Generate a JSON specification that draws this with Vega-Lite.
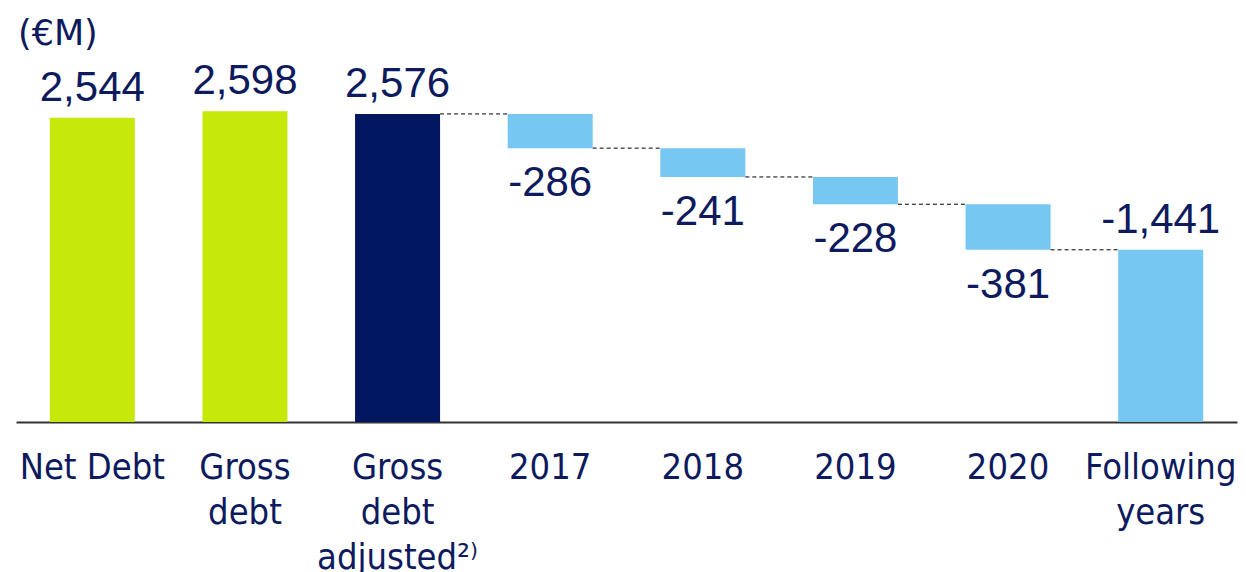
{
  "$schema": "https://vega.github.io/schema/vega-lite/v6.json",
  "width": 1221,
  "height": 362,
  "autosize": {"type": "none"},
  "padding": {"left": 16, "top": 60, "right": 9, "bottom": 150},
  "background": "white",
  "title": {
    "text": "(€M)",
    "anchor": "start",
    "frame": "group",
    "font": "DejaVu Sans",
    "fontSize": 35,
    "fontWeight": "normal",
    "color": "#0D1B5E",
    "offset": 8,
    "dx": 2
  },
  "data": {
    "values": [
      {"cat": "Net Debt", "kind": "Debt", "lo": 0, "hi": 2544, "end": 2544, "label": "2,544", "next": null},
      {"cat": "Gross debt", "kind": "Debt", "lo": 0, "hi": 2598, "end": 2598, "label": "2,598", "next": null},
      {"cat": "Gross debt adjusted²⁾", "kind": "Adjusted", "lo": 0, "hi": 2576, "end": 2576, "label": "2,576", "next": "2017"},
      {"cat": "2017", "kind": "Maturity", "lo": 2290, "hi": 2576, "end": 2290, "label": "-286", "next": "2018"},
      {"cat": "2018", "kind": "Maturity", "lo": 2049, "hi": 2290, "end": 2049, "label": "-241", "next": "2019"},
      {"cat": "2019", "kind": "Maturity", "lo": 1821, "hi": 2049, "end": 1821, "label": "-228", "next": "2020"},
      {"cat": "2020", "kind": "Maturity", "lo": 1440, "hi": 1821, "end": 1440, "label": "-381", "next": "Following years"},
      {"cat": "Following years", "kind": "Maturity", "lo": 0, "hi": 1440, "end": 0, "label": "-1,441", "next": null}
    ]
  },
  "encoding": {
    "x": {
      "field": "cat",
      "type": "nominal",
      "sort": null,
      "scale": {"paddingInner": 0.443, "paddingOuter": 0.2215},
      "axis": {
        "title": null,
        "labelAngle": 0,
        "ticks": false,
        "domainColor": "#333333",
        "domainWidth": 2,
        "labelFont": "DejaVu Sans Condensed",
        "labelFontSize": 36,
        "labelColor": "#0D1B5E",
        "labelBaseline": "top",
        "labelLineHeight": 45,
        "labelPadding": 28,
        "labelLimit": 400,
        "labelOverlap": false,
        "labelExpr": "datum.value == 'Net Debt' ? datum.value : split(datum.value, ' ')"
      }
    }
  },
  "layer": [
    {
      "mark": {"type": "bar"},
      "encoding": {
        "y": {"field": "lo", "type": "quantitative", "scale": {"domain": [0, 3027], "nice": false}, "axis": null},
        "y2": {"field": "hi"},
        "color": {
          "field": "kind",
          "type": "nominal",
          "scale": {"domain": ["Debt", "Adjusted", "Maturity"], "range": ["#C6E80A", "#00175F", "#76C7F2"]},
          "legend": null
        }
      }
    },
    {
      "transform": [{"filter": "datum.next != null"}],
      "mark": {"type": "rule", "strokeDash": [4, 3], "strokeWidth": 1, "color": "#000000"},
      "encoding": {
        "x": {"field": "cat", "type": "nominal", "sort": null, "bandPosition": 1},
        "x2": {"field": "next", "bandPosition": 0},
        "y": {"field": "end", "type": "quantitative"}
      }
    },
    {
      "transform": [{"filter": "datum.lo == 0"}],
      "mark": {"type": "text", "font": "Liberation Sans", "fontSize": 42, "color": "#0D1B5E", "baseline": "alphabetic", "dy": -17},
      "encoding": {
        "y": {"field": "hi", "type": "quantitative"},
        "text": {"field": "label"}
      }
    },
    {
      "transform": [{"filter": "datum.lo > 0"}],
      "mark": {"type": "text", "font": "Liberation Sans", "fontSize": 42, "color": "#0D1B5E", "baseline": "top", "dy": 15},
      "encoding": {
        "y": {"field": "lo", "type": "quantitative"},
        "text": {"field": "label"}
      }
    }
  ],
  "config": {"view": {"stroke": null}}
}
